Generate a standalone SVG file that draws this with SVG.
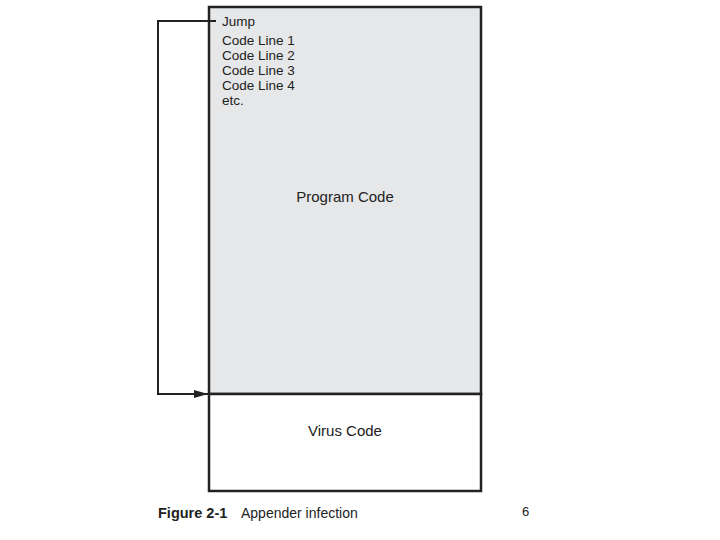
<svg xmlns="http://www.w3.org/2000/svg" width="720" height="540" viewBox="0 0 720 540">
<style>
.t{font-family:"Liberation Sans",Arial,sans-serif;fill:#222}
.box{stroke:#222;stroke-width:2.5}
.c{font-size:13.5px}
</style>
<defs>
<marker id="ah" markerWidth="14" markerHeight="8" refX="14" refY="4" orient="auto" markerUnits="userSpaceOnUse">
<path d="M0,0 L14,4 L0,8 z" fill="#222"/>
</marker>
</defs>
<rect width="720" height="540" fill="#fff"/>
<g id="program">
<rect class="box" x="209" y="7" width="272" height="387" fill="#e6e7e8"/>
<text class="t c" x="222" y="26">Jump</text>
<text class="t c" x="222" y="45">Code Line 1</text>
<text class="t c" x="222" y="60">Code Line 2</text>
<text class="t c" x="222" y="75">Code Line 3</text>
<text class="t c" x="222" y="90">Code Line 4</text>
<text class="t c" x="222" y="105">etc.</text>
<text class="t" x="345" y="202" font-size="15" text-anchor="middle">Program Code</text>
</g>
<g id="virus">
<rect class="box" x="209" y="394" width="272" height="97" fill="#fff"/>
<text class="t" x="345" y="436" font-size="15" text-anchor="middle">Virus Code</text>
</g>
<g id="connectors">
<polyline points="216,21 158,21 158,394 208,394" fill="none" stroke="#222" stroke-width="2" marker-end="url(#ah)"/>
</g>
<g id="caption">
<text class="t" x="158" y="518" font-size="14.5" font-weight="bold">Figure 2-1</text>
<text class="t" x="241" y="518" font-size="14">Appender infection</text>
<text class="t" x="522" y="516" font-size="13">6</text>
</g>
</svg>
